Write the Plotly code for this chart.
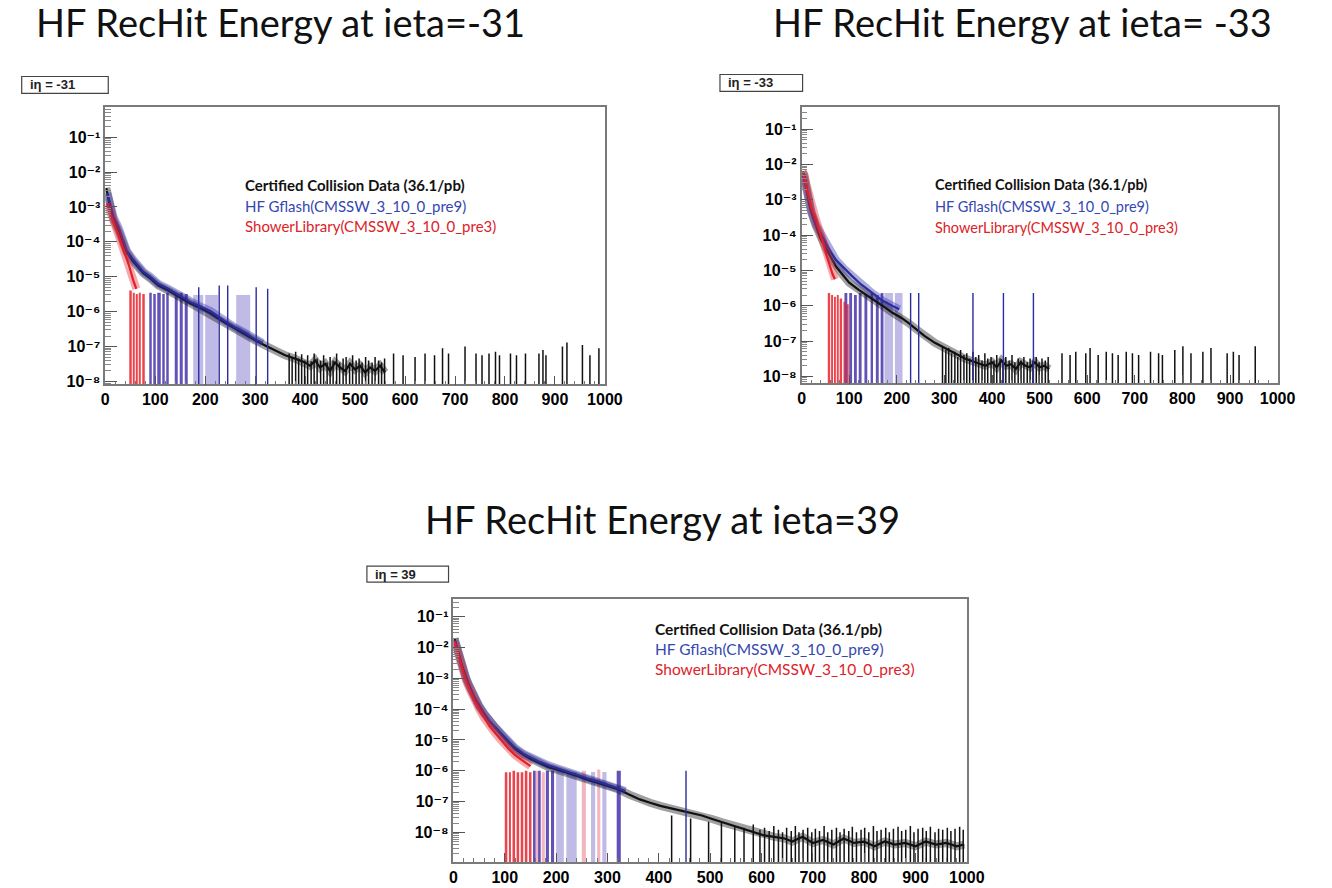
import plotly.graph_objects as go

W, H = 1332, 888

# ---------------- shared tick labels ----------------
X_TICKS = [0, 100, 200, 300, 400, 500, 600, 700, 800, 900, 1000]
Y_TICK_VALS = [1e-8, 1e-7, 1e-6, 1e-5, 1e-4, 1e-3, 1e-2, 1e-1]
Y_TICK_TEXT = ["10⁻⁸", "10⁻⁷", "10⁻⁶", "10⁻⁵", "10⁻⁴", "10⁻³", "10⁻²", "10⁻¹"]

TITLES = ["HF RecHit Energy at ieta=-31", "HF RecHit Energy at ieta= -33", "HF RecHit Energy at ieta=39"]
BOX_LABELS = ["iη = -31", "iη = -33", "iη = 39"]
LEGEND_TEXT = ["Certified Collision Data (36.1/pb)", "HF Gflash(CMSSW_3_10_0_pre9)",
               "ShowerLibrary(CMSSW_3_10_0_pre3)"]

# ================= Panel A : ieta = -31 =================
A_data_E = [2, 6, 10, 17, 27, 35, 43, 55, 66, 76, 90, 106, 126, 150, 170, 190, 210, 237, 260, 280,
            300, 320, 340, 360, 380, 400, 410, 420, 430, 440, 450, 460, 470, 480, 490, 500, 510,
            520, 530, 540, 550, 560]
A_data_val = [3.5e-3, 1.8e-3, 8.9e-4, 4.0e-4, 2.0e-4, 1.0e-4, 5.0e-5, 2.8e-5, 1.8e-5, 1.26e-5,
              8.9e-6, 5.6e-6, 4.0e-6, 2.5e-6, 1.7e-6, 1.26e-6, 8.9e-7, 5.0e-7, 3.2e-7, 2.2e-7,
              1.5e-7, 1.07e-7, 7.6e-8, 5.6e-8, 4.5e-8, 3.5e-8, 2.8e-8, 4.0e-8, 2.5e-8, 3.2e-8,
              2.0e-8, 3.5e-8, 2.5e-8, 2.0e-8, 3.2e-8, 2.2e-8, 2.8e-8, 1.8e-8, 2.5e-8, 2.0e-8,
              2.8e-8, 1.8e-8]
A_data_spk_E = [368, 374, 381, 387, 393, 399, 405, 412, 418, 424, 431, 437, 444, 450, 456, 463,
                469, 476, 482, 489, 495, 502, 508, 514, 521, 527, 534, 540, 547, 553, 559,
                577, 596, 620, 640, 659, 675, 687, 720, 742, 754, 768, 781, 789, 811, 823, 841,
                868, 876, 882, 915, 924, 955, 970, 988]
A_data_spk_top = [6.3e-8, 5.0e-8, 7.1e-8, 4.5e-8, 6.0e-8, 4.0e-8, 5.6e-8, 3.8e-8, 6.3e-8, 4.5e-8,
                  4.0e-8, 5.6e-8, 3.5e-8, 5.0e-8, 4.0e-8, 6.3e-8, 3.5e-8, 4.5e-8, 5.0e-8, 3.5e-8,
                  5.6e-8, 4.0e-8, 4.5e-8, 3.5e-8, 5.0e-8, 4.0e-8, 3.5e-8, 5.0e-8, 4.0e-8, 3.5e-8,
                  4.5e-8,
                  6.3e-8, 5.6e-8, 5.0e-8, 6.3e-8, 5.6e-8, 8.9e-8, 6.3e-8, 1.0e-7, 6.3e-8, 5.6e-8,
                  6.3e-8, 7.1e-8, 5.6e-8, 6.3e-8, 5.6e-8, 6.3e-8, 6.3e-8, 7.9e-8, 5.6e-8, 1.0e-7,
                  1.3e-7, 1.1e-7, 5.6e-8, 8.9e-8]
A_gf_E = [4, 10, 17, 27, 35, 43, 55, 66, 76, 90, 106, 126, 150, 170, 190, 210, 237, 260, 280, 300, 315]
A_gf_val = [2.5e-3, 1.1e-3, 5.0e-4, 2.5e-4, 1.1e-4, 5.6e-5, 3.2e-5, 2.0e-5, 1.4e-5, 1.0e-5, 6.3e-6,
            4.5e-6, 2.8e-6, 1.9e-6, 1.4e-6, 1.05e-6, 5.6e-7, 3.5e-7, 2.5e-7, 1.6e-7, 1.26e-7]
A_gf_bar_lo = [88, 96, 104, 114, 122, 139, 149, 159]
A_gf_bar_hi = [93, 101, 111, 119, 127, 145, 155, 165]
A_gf_bar_top = [3.5e-6, 3.2e-6, 3.5e-6, 3.2e-6, 3.5e-6, 3.2e-6, 3.5e-6, 3.2e-6]
A_gf_box_lo = [176, 200, 262]
A_gf_box_hi = [196, 226, 290]
A_gf_box_top = [3.0e-6, 3.0e-6, 3.0e-6]
A_gf_spk_E = [187, 228, 245, 302, 325]
A_gf_spk_top = [5.0e-6, 5.6e-6, 5.6e-6, 5.0e-6, 4.5e-6]
A_sl_E = [4, 10, 18, 25, 30, 38, 47, 56, 62]
A_sl_val = [1.26e-3, 6.3e-4, 3.2e-4, 1.8e-4, 1.1e-4, 5.0e-5, 2.2e-5, 7.9e-6, 4.5e-6]
A_sl_bar_lo = [48, 55, 61, 67, 74]
A_sl_bar_hi = [53, 59, 65, 71, 79]
A_sl_bar_top = [4.0e-6, 3.5e-6, 3.2e-6, 3.5e-6, 3.2e-6]
A_sl_box_lo = []
A_sl_box_hi = []
A_sl_box_top = []

# ================= Panel B : ieta = -33 =================
B_data_E = [2, 6, 10, 14, 20, 30, 40, 50, 60, 72, 85, 100, 120, 148, 170, 191, 210, 225, 240, 258,
            280, 301, 320, 343, 365, 386, 400, 410, 420, 430, 440, 450, 460, 470, 480, 490, 500,
            510, 520]
B_data_val = [6.3e-3, 5.0e-3, 2.5e-3, 1.0e-3, 4.5e-4, 1.8e-4, 7.9e-5, 4.5e-5, 2.5e-5, 1.3e-5,
              7.9e-6, 4.5e-6, 2.8e-6, 1.6e-6, 1.0e-6, 6.3e-7, 4.5e-7, 3.2e-7, 2.2e-7, 1.4e-7,
              8.9e-8, 6.3e-8, 4.5e-8, 3.2e-8, 2.5e-8, 2.0e-8, 2.5e-8, 1.8e-8, 2.8e-8, 2.0e-8,
              2.2e-8, 1.6e-8, 2.5e-8, 2.0e-8, 1.8e-8, 2.5e-8, 1.8e-8, 2.0e-8, 1.6e-8]
B_data_spk_E = [296, 303, 309, 315, 322, 328, 334, 341, 347, 353, 360, 366, 372, 379, 385, 391,
                398, 404, 410, 417, 423, 429, 436, 442, 448, 455, 461, 467, 474, 480, 486, 493,
                499, 505, 512, 518,
                547, 564, 576, 597, 606, 623, 640, 653, 665, 682, 695, 708, 733, 750, 758, 784,
                801, 818, 843, 860, 894, 907, 919, 953]
B_data_spk_top = [7.1e-8, 5.6e-8, 6.3e-8, 4.5e-8, 5.0e-8, 3.5e-8, 5.6e-8, 4.0e-8, 4.5e-8, 3.2e-8,
                  5.0e-8, 3.5e-8, 4.0e-8, 2.8e-8, 4.5e-8, 3.2e-8, 3.5e-8, 2.8e-8, 4.0e-8, 3.2e-8,
                  2.5e-8, 3.5e-8, 2.8e-8, 4.0e-8, 2.5e-8, 3.2e-8, 2.8e-8, 3.5e-8, 2.5e-8, 3.2e-8,
                  2.8e-8, 3.5e-8, 2.5e-8, 3.2e-8, 2.8e-8, 3.5e-8,
                  4.5e-8, 4.0e-8, 5.0e-8, 4.5e-8, 6.3e-8, 4.0e-8, 5.0e-8, 4.5e-8, 4.0e-8, 5.0e-8,
                  4.5e-8, 4.0e-8, 5.0e-8, 4.5e-8, 4.0e-8, 5.6e-8, 7.1e-8, 4.5e-8, 5.0e-8, 6.3e-8,
                  4.5e-8, 5.0e-8, 4.0e-8, 7.1e-8]
B_gf_E = [3, 8, 14, 21, 30, 40, 47, 60, 72, 90, 106, 125, 148, 170, 191, 205]
B_gf_val = [5.0e-3, 2.5e-3, 1.0e-3, 4.5e-4, 2.0e-4, 1.1e-4, 7.6e-5, 3.5e-5, 2.0e-5, 1.1e-5, 6.9e-6,
            4.0e-6, 2.3e-6, 1.4e-6, 9.8e-7, 7.9e-7]
B_gf_bar_lo = [90, 100, 110, 120, 132, 145, 156, 166]
B_gf_bar_hi = [96, 106, 116, 126, 138, 150, 162, 172]
B_gf_bar_top = [2.3e-6, 2.3e-6, 2.0e-6, 2.3e-6, 2.0e-6, 2.3e-6, 2.0e-6, 2.3e-6]
B_gf_box_lo = [174, 196]
B_gf_box_hi = [192, 212]
B_gf_box_top = [2.3e-6, 2.3e-6]
B_gf_spk_E = [229, 246, 360, 424, 487]
B_gf_spk_top = [2.3e-6, 2.3e-6, 2.3e-6, 2.3e-6, 2.3e-6]
B_sl_E = [3, 8, 13, 20, 30, 40, 47, 53, 59, 65, 70]
B_sl_val = [6.3e-3, 3.2e-3, 1.6e-3, 6.3e-4, 2.8e-4, 1.1e-4, 4.9e-5, 2.5e-5, 1.3e-5, 7.9e-6, 5.6e-6]
B_sl_bar_lo = [55, 62, 68, 74, 80, 88, 95]
B_sl_bar_hi = [60, 66, 72, 78, 85, 92, 99]
B_sl_bar_top = [2.3e-6, 2.0e-6, 1.8e-6, 2.0e-6, 1.6e-6, 1.3e-6, 1.1e-6]
B_sl_box_lo = []
B_sl_box_hi = []
B_sl_box_top = []

# ================= Panel C : ieta = 39 =================
C_data_E = [2, 6, 10, 15, 20, 25, 30, 40, 50, 60, 70, 82, 95, 108, 120, 137, 150, 169, 185, 202,
            220, 242, 262, 282, 302, 323, 343, 363, 383, 403, 424, 444, 464, 484, 504, 524, 545,
            565, 585, 605, 625, 645, 660, 680, 700, 720, 740, 760, 780, 800, 820, 840, 860, 880,
            900, 920, 940, 960, 980, 995]
C_data_val = [2.0e-2, 1.1e-2, 6.3e-3, 3.2e-3, 1.8e-3, 1.0e-3, 6.3e-4, 2.5e-4, 1.26e-4, 7.1e-5,
              4.0e-5, 2.5e-5, 1.4e-5, 7.9e-6, 5.0e-6, 3.2e-6, 2.4e-6, 1.7e-6, 1.3e-6, 1.07e-6,
              8.7e-7, 6.6e-7, 5.0e-7, 4.0e-7, 3.2e-7, 2.4e-7, 1.66e-7, 1.17e-7, 9.1e-8, 7.2e-8,
              6.0e-8, 5.0e-8, 4.2e-8, 3.5e-8, 2.7e-8, 2.1e-8, 1.66e-8, 1.3e-8, 1.0e-8, 7.9e-9,
              7.1e-9, 6.3e-9, 5.0e-9, 7.1e-9, 4.5e-9, 5.6e-9, 4.0e-9, 6.3e-9, 4.5e-9, 5.0e-9,
              3.5e-9, 5.0e-9, 4.0e-9, 4.5e-9, 3.5e-9, 5.0e-9, 4.0e-9, 4.5e-9, 3.5e-9, 4.0e-9]
C_data_spk_E = [425, 462, 497, 522, 548, 566, 584, 597, 606, 615, 624, 633, 641, 649, 658, 666,
                673, 681, 690, 698, 705, 713, 722, 729, 737, 746, 753, 761, 770, 777, 785, 794,
                801, 809, 818, 825, 833, 842, 849, 857, 866, 873, 881, 890, 897, 905, 914, 921,
                929, 938, 945, 953, 962, 969, 977, 986, 993]
C_data_spk_top = [3.5e-8, 2.8e-8, 2.2e-8, 2.0e-8, 1.6e-8, 1.4e-8, 1.8e-8, 1.2e-8, 1.4e-8, 1.1e-8,
                  1.6e-8, 1.2e-8, 1.0e-8, 1.4e-8, 1.1e-8, 1.6e-8, 1.0e-8, 1.2e-8, 1.4e-8, 1.0e-8,
                  1.3e-8, 1.1e-8, 1.6e-8, 1.0e-8, 1.2e-8, 1.4e-8, 1.0e-8, 1.3e-8, 1.1e-8, 1.5e-8,
                  1.0e-8, 1.2e-8, 1.4e-8, 1.0e-8, 1.6e-8, 1.1e-8, 1.2e-8, 1.4e-8, 1.0e-8, 1.3e-8,
                  1.5e-8, 1.1e-8, 1.2e-8, 1.6e-8, 1.0e-8, 1.3e-8, 1.4e-8, 1.1e-8, 1.5e-8, 1.0e-8,
                  1.3e-8, 1.2e-8, 1.4e-8, 1.1e-8, 1.3e-8, 1.5e-8, 1.2e-8]
C_gf_E = [2, 6, 10, 15, 20, 25, 30, 40, 50, 60, 70, 82, 95, 108, 120, 137, 150, 169, 185, 202,
          220, 242, 262, 282, 302, 323, 335]
C_gf_val = [1.8e-2, 1.0e-2, 5.6e-3, 2.8e-3, 1.6e-3, 9.5e-4, 6.0e-4, 2.5e-4, 1.26e-4, 7.1e-5,
            4.2e-5, 2.5e-5, 1.5e-5, 8.9e-6, 5.6e-6, 3.5e-6, 2.7e-6, 1.9e-6, 1.5e-6, 1.2e-6,
            9.5e-7, 7.4e-7, 5.6e-7, 4.5e-7, 3.5e-7, 2.6e-7, 2.2e-7]
C_gf_bar_lo = [155, 165, 180, 190, 318]
C_gf_bar_hi = [160, 170, 186, 196, 326]
C_gf_bar_top = [1.0e-6, 1.0e-6, 1.0e-6, 1.0e-6, 1.0e-6]
C_gf_box_lo = [200, 220, 268, 290]
C_gf_box_hi = [215, 240, 276, 298]
C_gf_box_top = [1.0e-6, 9.0e-7, 9.0e-7, 9.0e-7]
C_gf_spk_E = [453]
C_gf_spk_top = [1.0e-6]
C_sl_E = [2, 6, 10, 15, 20, 25, 30, 40, 50, 60, 70, 82, 95, 108, 120, 137, 150]
C_sl_val = [1.6e-2, 8.9e-3, 5.0e-3, 2.5e-3, 1.4e-3, 7.9e-4, 5.0e-4, 2.0e-4, 1.0e-4, 5.0e-5,
            2.8e-5, 1.6e-5, 8.9e-6, 5.0e-6, 3.2e-6, 2.0e-6, 1.4e-6]
C_sl_bar_lo = [100, 108, 115, 123, 131, 139, 147]
C_sl_bar_hi = [105, 112, 120, 128, 136, 144, 152]
C_sl_bar_top = [8.9e-7, 8.9e-7, 1.0e-6, 8.9e-7, 8.9e-7, 1.0e-6, 8.9e-7]
C_sl_box_lo = [160, 172, 250, 280]
C_sl_box_hi = [166, 178, 258, 286]
C_sl_box_top = [1.0e-6, 8.9e-7, 1.0e-6, 1.1e-6]

# ---------------- styling / layout (not data) ----------------
FLOOR = 1e-12
BLACK = "#111111"
BLACK_FUZZ = "rgba(20,20,20,0.4)"
BLUE = "#2c2c9c"
BLUE_FUZZ = "rgba(50,50,170,0.4)"
BLUE_BAR = "rgba(70,50,170,0.85)"
BLUE_BOX = "rgba(130,120,205,0.5)"
RED = "#e3202a"
RED_FUZZ = "rgba(230,40,50,0.4)"
RED_BAR = "rgba(232,35,45,0.85)"
RED_BOX = "rgba(230,110,130,0.5)"

TICKFONT = dict(family="Liberation Sans, DejaVu Sans", size=16, color="black", weight="bold")

fig = go.Figure()


def add_curve(E, V, color, fuzz, xa, ya):
    fig.add_trace(go.Scatter(x=E, y=V, mode="lines", line=dict(color=fuzz, width=8),
                             xaxis=xa, yaxis=ya, hoverinfo="skip", showlegend=False))
    fig.add_trace(go.Scatter(x=E, y=V, mode="lines", line=dict(color=color, width=2.2),
                             xaxis=xa, yaxis=ya, showlegend=False))


def add_spikes(E, top, color, width, xa, ya):
    xs, ys = [], []
    for e, t in zip(E, top):
        xs += [e, e, None]
        ys += [FLOOR, t, None]
    fig.add_trace(go.Scatter(x=xs, y=ys, mode="lines", line=dict(color=color, width=width),
                             xaxis=xa, yaxis=ya, hoverinfo="skip", showlegend=False))


def add_bars(lo, hi, top, color, xa, ya):
    if not lo:
        return
    fig.add_trace(go.Bar(x=[(a + b) / 2 for a, b in zip(lo, hi)], y=top,
                         width=[b - a for a, b in zip(lo, hi)], base=FLOOR,
                         marker=dict(color=color, line=dict(width=0)),
                         xaxis=xa, yaxis=ya, showlegend=False))


panels = [
    dict(xa="x", ya="y",
         data=(A_data_E, A_data_val, A_data_spk_E, A_data_spk_top),
         gf=(A_gf_E, A_gf_val, A_gf_bar_lo, A_gf_bar_hi, A_gf_bar_top, A_gf_box_lo, A_gf_box_hi,
             A_gf_box_top, A_gf_spk_E, A_gf_spk_top),
         sl=(A_sl_E, A_sl_val, A_sl_bar_lo, A_sl_bar_hi, A_sl_bar_top, A_sl_box_lo, A_sl_box_hi,
             A_sl_box_top)),
    dict(xa="x2", ya="y2",
         data=(B_data_E, B_data_val, B_data_spk_E, B_data_spk_top),
         gf=(B_gf_E, B_gf_val, B_gf_bar_lo, B_gf_bar_hi, B_gf_bar_top, B_gf_box_lo, B_gf_box_hi,
             B_gf_box_top, B_gf_spk_E, B_gf_spk_top),
         sl=(B_sl_E, B_sl_val, B_sl_bar_lo, B_sl_bar_hi, B_sl_bar_top, B_sl_box_lo, B_sl_box_hi,
             B_sl_box_top)),
    dict(xa="x3", ya="y3",
         data=(C_data_E, C_data_val, C_data_spk_E, C_data_spk_top),
         gf=(C_gf_E, C_gf_val, C_gf_bar_lo, C_gf_bar_hi, C_gf_bar_top, C_gf_box_lo, C_gf_box_hi,
             C_gf_box_top, C_gf_spk_E, C_gf_spk_top),
         sl=(C_sl_E, C_sl_val, C_sl_bar_lo, C_sl_bar_hi, C_sl_bar_top, C_sl_box_lo, C_sl_box_hi,
             C_sl_box_top)),
]

for p in panels:
    xa, ya = p["xa"], p["ya"]
    dE, dV, dsE, dsT = p["data"]
    gE, gV, gbl, gbh, gbt, gxl, gxh, gxt, gsE, gsT = p["gf"]
    sE, sV, sbl, sbh, sbt, sxl, sxh, sxt = p["sl"]
    add_bars(gxl, gxh, gxt, BLUE_BOX, xa, ya)
    add_bars(sxl, sxh, sxt, RED_BOX, xa, ya)
    add_bars(gbl, gbh, gbt, BLUE_BAR, xa, ya)
    add_bars(sbl, sbh, sbt, RED_BAR, xa, ya)
    add_spikes(dsE, dsT, BLACK, 1.5, xa, ya)
    add_curve(dE, dV, BLACK, BLACK_FUZZ, xa, ya)
    add_spikes(gsE, gsT, BLUE, 1.4, xa, ya)
    add_curve(gE, gV, BLUE, BLUE_FUZZ, xa, ya)
    add_curve(sE, sV, RED, RED_FUZZ, xa, ya)

# panel geometry in pixels: (x0, x1, ytop, ybottom, log-range)
GEOM = [
    (103, 611, 108, 387, [-8.085, -0.145]),
    (811, 1295, 108, 386, [-8.2, -0.38]),
    (457, 979, 603, 868, [-8.97, -0.42]),
]

layout_axes = {}
for i, (x0, x1, yt, yb, yr) in enumerate(GEOM):
    sfx = "" if i == 0 else str(i + 1)
    layout_axes["xaxis" + sfx] = dict(
        domain=[x0 / W, x1 / W], range=[0, 1000], anchor="y" + sfx,
        tickmode="array", tickvals=X_TICKS, ticktext=[str(t) for t in X_TICKS],
        ticks="inside", ticklen=9, tickwidth=1, tickcolor="#555",
        minor=dict(ticks="inside", ticklen=4, tickmode="linear", tick0=0, dtick=20, tickcolor="#777"),
        showline=True, mirror=True, linecolor="#7a7a7a", linewidth=1.5,
        showgrid=False, zeroline=False, tickfont=TICKFONT, fixedrange=True)
    layout_axes["yaxis" + sfx] = dict(
        domain=[1 - yb / H, 1 - yt / H], type="log", range=yr, anchor="x" + sfx,
        tickmode="array", tickvals=Y_TICK_VALS, ticktext=Y_TICK_TEXT,
        ticks="inside", ticklen=12, tickwidth=1, tickcolor="#555",
        minor=dict(ticks="inside", ticklen=6, dtick="D1", tickcolor="#888"),
        showline=True, mirror=True, linecolor="#7a7a7a", linewidth=1.5,
        showgrid=False, zeroline=False, tickfont=TICKFONT, fixedrange=True)

annotations = []
shapes = []
TITLE_POS = [(281, 22), (1036, 22), (670, 523)]
BOX_POS = [(18, 77, 106, 94), (728, 75, 812, 92), (369, 570, 452, 586)]
LEG_POS = [(243, 186, 21, 15), (945, 186, 21.5, 14.5), (660, 633, 20.5, 15.5)]
LEG_COLORS = ["#111111", "#3547b0", "#dd2228"]

for i in range(3):
    tx, ty = TITLE_POS[i]
    annotations.append(dict(text=TITLES[i], x=tx / W, y=1 - ty / H, xref="paper", yref="paper",
                            xanchor="center", yanchor="middle", showarrow=False,
                            font=dict(family="Lato", size=38, color="#111111")))
    bx0, by0, bx1, by1 = BOX_POS[i]
    shapes.append(dict(type="rect", xref="paper", yref="paper", x0=bx0 / W, x1=bx1 / W,
                       y0=1 - by1 / H, y1=1 - by0 / H, line=dict(color="#444", width=1.2),
                       fillcolor="white"))
    annotations.append(dict(text="<b>" + BOX_LABELS[i] + "</b>", x=(bx0 + 6) / W,
                            y=1 - (by0 + by1) / 2 / H, xref="paper", yref="paper",
                            xanchor="left", yanchor="middle", showarrow=False,
                            font=dict(family="Liberation Sans", size=13, color="#222")))
    lx, ly, dy, fs = LEG_POS[i]
    for k in range(3):
        txt = LEGEND_TEXT[k]
        if k == 0:
            txt = "<b>" + txt + "</b>"
        annotations.append(dict(text=txt, x=lx / W, y=1 - (ly + k * dy) / H, xref="paper",
                                yref="paper", xanchor="left", yanchor="middle", showarrow=False,
                                font=dict(family="Lato", size=fs, color=LEG_COLORS[k])))

fig.update_layout(
    width=W, height=H, margin=dict(l=0, r=0, t=0, b=0),
    paper_bgcolor="white", plot_bgcolor="white",
    barmode="overlay", showlegend=False,
    annotations=annotations, shapes=shapes,
    **layout_axes)

fig.write_html("out.html", config={"displayModeBar": False},
               post_script="document.body.style.margin='0px';")
